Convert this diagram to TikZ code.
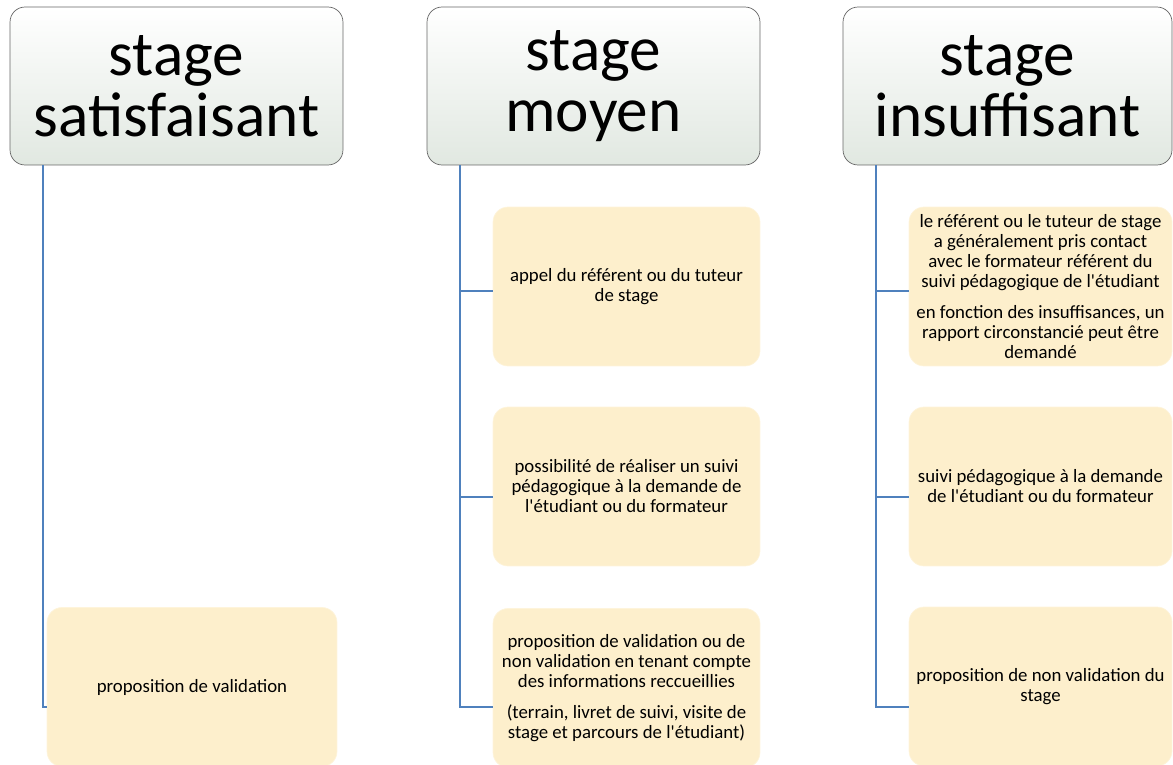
\documentclass[tikz,border=0pt]{standalone}
\usepackage{fontspec}
\setmainfont{Carlito}[Ligatures=TeXOff]
\usepackage{tikz}
\definecolor{linkblue}{HTML}{4F81BD}
\definecolor{itemfill}{HTML}{FDEFCC}
\definecolor{headfill}{HTML}{E1E8E1}

\begin{document}
\begin{tikzpicture}[x=0.02cm,y=-0.02cm,
	head/.style = {draw=black!60, rounded corners=0.3cm, top color=white, bottom color=headfill,
		minimum width=6.66cm, minimum height=3.16cm, align=center,
		font=\fontsize{36}{34.5}\selectfont},
	item/.style = {fill=itemfill, draw=itemfill!70!white, rounded corners=0.3cm,
		minimum width=5.34cm, minimum height=3.18cm, align=center,
		font=\fontsize{10.7}{11.4}\selectfont},
	link/.style = {draw=linkblue, line width=1.2pt}]
	\useasboundingbox (0,0) rectangle (1173,764);
	% headers
	\node[head] (sat) at (176.5,86) {stage\\satisfaisant};
	\node[head] (moy) at (593.5,86) {stage\\moyen};
	\node[head, minimum width=6.58cm] (ins) at (1007.5,86) {stage\\insuffisant};
	% first column
	\node[item, minimum width=5.8cm] (sat1) at (192,687) {proposition de validation};
	% second column
	\node[item] (moy1) at (626.5,286.5) {appel du référent ou du tuteur\\de stage};
	\node[item] (moy2) at (626.5,486.5) {possibilité de réaliser un suivi\\pédagogique à la demande de\\l'étudiant ou du formateur};
	\node[item] (moy3) at (626.5,688) {proposition de validation ou de\\non validation en tenant compte\\des informations reccueillies\\[6pt]
		(terrain, livret de suivi, visite de\\stage et parcours de l'étudiant)};
	% third column
	\node[item, minimum width=5.26cm] (ins1) at (1040.5,286.5) {le référent ou le tuteur de stage\\a généralement pris contact\\avec le formateur référent du\\suivi pédagogique de l'étudiant\\[6pt]
		en fonction des insuffisances, un\\rapport circonstancié peut être\\demandé};
	\node[item, minimum width=5.26cm] (ins2) at (1040.5,486.5) {suivi pédagogique à la demande\\de l'étudiant ou du formateur};
	\node[item, minimum width=5.26cm] (ins3) at (1040.5,686.5) {proposition de non validation du\\stage};
	% links
	\draw[link] (sat.south west) ++(33,0) |- (sat1.west |- 0,707);
	\draw[link] (moy.south west) ++(33,0) |- (moy1.west |- 0,291);
	\draw[link] (moy.south west) ++(33,0) |- (moy2.west |- 0,497);
	\draw[link] (moy.south west) ++(33,0) |- (moy3.west |- 0,707);
	\draw[link] (ins.south west) ++(33,0) |- (ins1.west |- 0,291);
	\draw[link] (ins.south west) ++(33,0) |- (ins2.west |- 0,497);
	\draw[link] (ins.south west) ++(33,0) |- (ins3.west |- 0,707);
\end{tikzpicture}
\end{document}
